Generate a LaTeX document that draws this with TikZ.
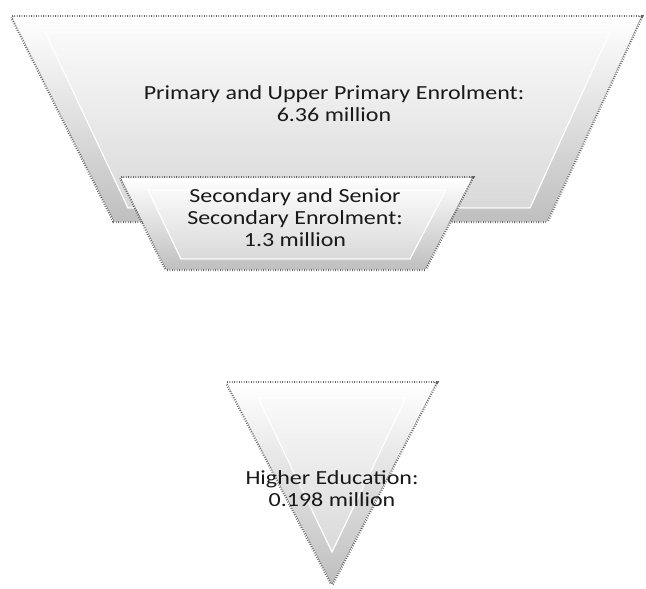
\documentclass[tikz,border=0pt]{standalone}
\usepackage{fontspec}
\setmainfont{Carlito}
\newfontfamily\funnelfont{Carlito}[FakeStretch=1.2]
\usetikzlibrary{calc}

\begin{document}
\begin{tikzpicture}[x=1pt,y=-1pt]
      \tikzset{glow edge/.style={draw=black!60,
          line width=4pt,
          dash pattern=on 0.8pt off 1.6pt},
        outer face/.style={top color=white, bottom color=black!25},
        inner face/.style={top color=black!2, bottom color=black!15,
          draw=white, line width=1.2pt},
        funnel text/.style={align=center, text=black!90,
          font=\funnelfont\fontsize{20}{22}\selectfont}
      }
      \useasboundingbox (0,0) rectangle (646,589);

      % primary stage
      \coordinate (P1) at (12,17);
      \coordinate (P2) at (641,17);
      \coordinate (P3) at (547,221);
      \coordinate (P4) at (114,221);
      \draw [glow edge] (P1)--(P2)--(P3)--(P4)--cycle;
      \fill [outer face] (P1)--(P2)--(P3)--(P4)--cycle;
      \filldraw [inner face] (45,32)--(610,32)--(530,208)--(128,208)--cycle;
      \node [funnel text] (primary) at (334,104) {Primary and Upper Primary Enrolment:\\6.36 million};

      % secondary stage
      \coordinate (S1) at (121,178);
      \coordinate (S2) at (472,178);
      \coordinate (S3) at (425,269);
      \coordinate (S4) at (166,269);
      \draw [glow edge] (S1)--(S2)--(S3)--(S4)--cycle;
      \fill [outer face] (S1)--(S2)--(S3)--(S4)--cycle;
      \filldraw [inner face] (148,190)--(446,190)--(410,259)--(181,259)--cycle;
      \node [funnel text] (secondary) at (295,218) {Secondary and Senior\\Secondary Enrolment:\\1.3 million};

      % higher stage
      \coordinate (H1) at (227,383);
      \coordinate (H2) at (436,383);
      \coordinate (H3) at (332,584);
      \draw [glow edge] (H1)--(H2)--(H3)--cycle;
      \fill [outer face] (H1)--(H2)--(H3)--cycle;
      \filldraw [inner face] (258,398)--(406,398)--(332,552)--cycle;
      \node [funnel text] (higher) at (332,489) {Higher Education:\\0.198 million};

    \end{tikzpicture}
\end{document}
